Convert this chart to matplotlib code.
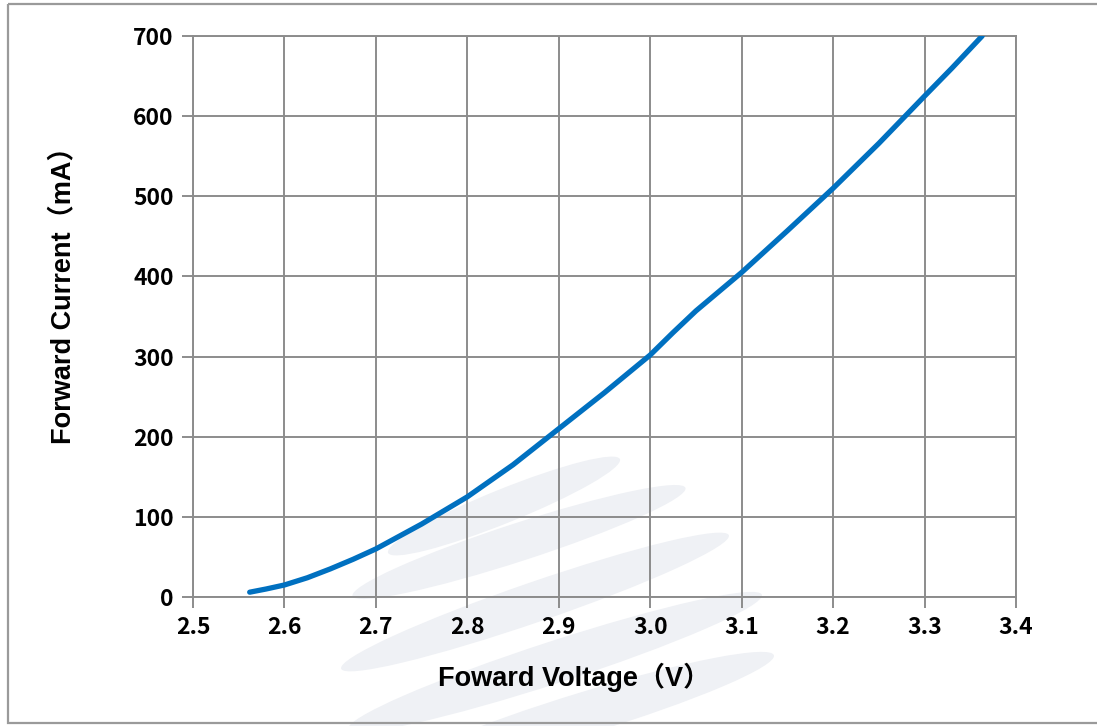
import matplotlib.pyplot as plt
from matplotlib.patches import Ellipse, Rectangle

plt.rcParams['font.family'] = ['Liberation Sans', 'Noto Sans CJK SC', 'DejaVu Sans']
plt.rcParams['font.weight'] = 'bold'

# Forward voltage (V) vs forward current (mA)
voltage = [2.562, 2.58, 2.60, 2.625, 2.65, 2.675, 2.70, 2.75, 2.80, 2.85, 2.90,
           2.95, 3.00, 3.025, 3.05, 3.10, 3.15, 3.20, 3.25, 3.30, 3.33, 3.363]
current = [6, 10, 15, 24, 35, 47, 60, 91, 125, 165, 210,
           255, 302, 330, 357, 405, 457, 510, 566, 625, 660, 700]

x_ticks = [2.5, 2.6, 2.7, 2.8, 2.9, 3.0, 3.1, 3.2, 3.3, 3.4]
x_tick_labels = ['2.5', '2.6', '2.7', '2.8', '2.9', '3.0', '3.1', '3.2', '3.3', '3.4']
y_ticks = [0, 100, 200, 300, 400, 500, 600, 700]

W, H = 1097, 726
fig = plt.figure(figsize=(W / 100, H / 100), dpi=100)

# background layer in pixel coords: frame + faint watermark streaks
bg = fig.add_axes([0, 0, 1, 1], zorder=-1)
bg.set_xlim(0, W)
bg.set_ylim(H, 0)
bg.axis('off')
streaks = [((504, 506), 250, 34, 22), ((519, 542), 350, 38, 18), ((535, 602), 410, 40, 19),
           ((555, 662), 435, 42, 18), ((585, 713), 395, 42, 17)]
for (cx, cy), w, h, ang in streaks:
    bg.add_patch(Ellipse((cx, cy), w, h, angle=-ang, facecolor='#eff1f5', edgecolor='none'))
bg.add_patch(Rectangle((8, 4), W, 719, fill=False, edgecolor='#9a9a9a', linewidth=1.6))

ax = fig.add_axes([193 / W, 1 - 597 / H, (1016 - 193) / W, (597 - 36) / H])
ax.set_facecolor('none')
ax.plot(voltage, current, color='#0070c0', linewidth=3.8, solid_capstyle='round', zorder=3)

ax.set_xlim(2.5, 3.4)
ax.set_ylim(0, 700)
ax.set_xticks(x_ticks)
ax.set_xticklabels(x_tick_labels)
ax.set_yticks(y_ticks)
ax.grid(True, color='#8c8c8c', linewidth=1.4)
for s in ax.spines.values():
    s.set_color('#8c8c8c')
    s.set_linewidth(1.4)
ax.tick_params(axis='both', length=8, width=1.4, color='#8c8c8c', pad=6)
for lab in ax.get_xticklabels() + ax.get_yticklabels():
    lab.set_fontfamily(['Noto Sans CJK SC', 'DejaVu Sans'])
    lab.set_fontsize(16.5)
    lab.set_fontweight('bold')

ax.set_xlabel('Foward Voltage（V）', fontsize=19.5, fontweight='bold')
ax.set_ylabel('Forward Current（mA）', fontsize=19.5, fontweight='bold')
ax.xaxis.set_label_coords(0.463, -0.117)
ax.yaxis.set_label_coords(-0.142, 0.549)

fig.savefig('out.png', dpi=100)
